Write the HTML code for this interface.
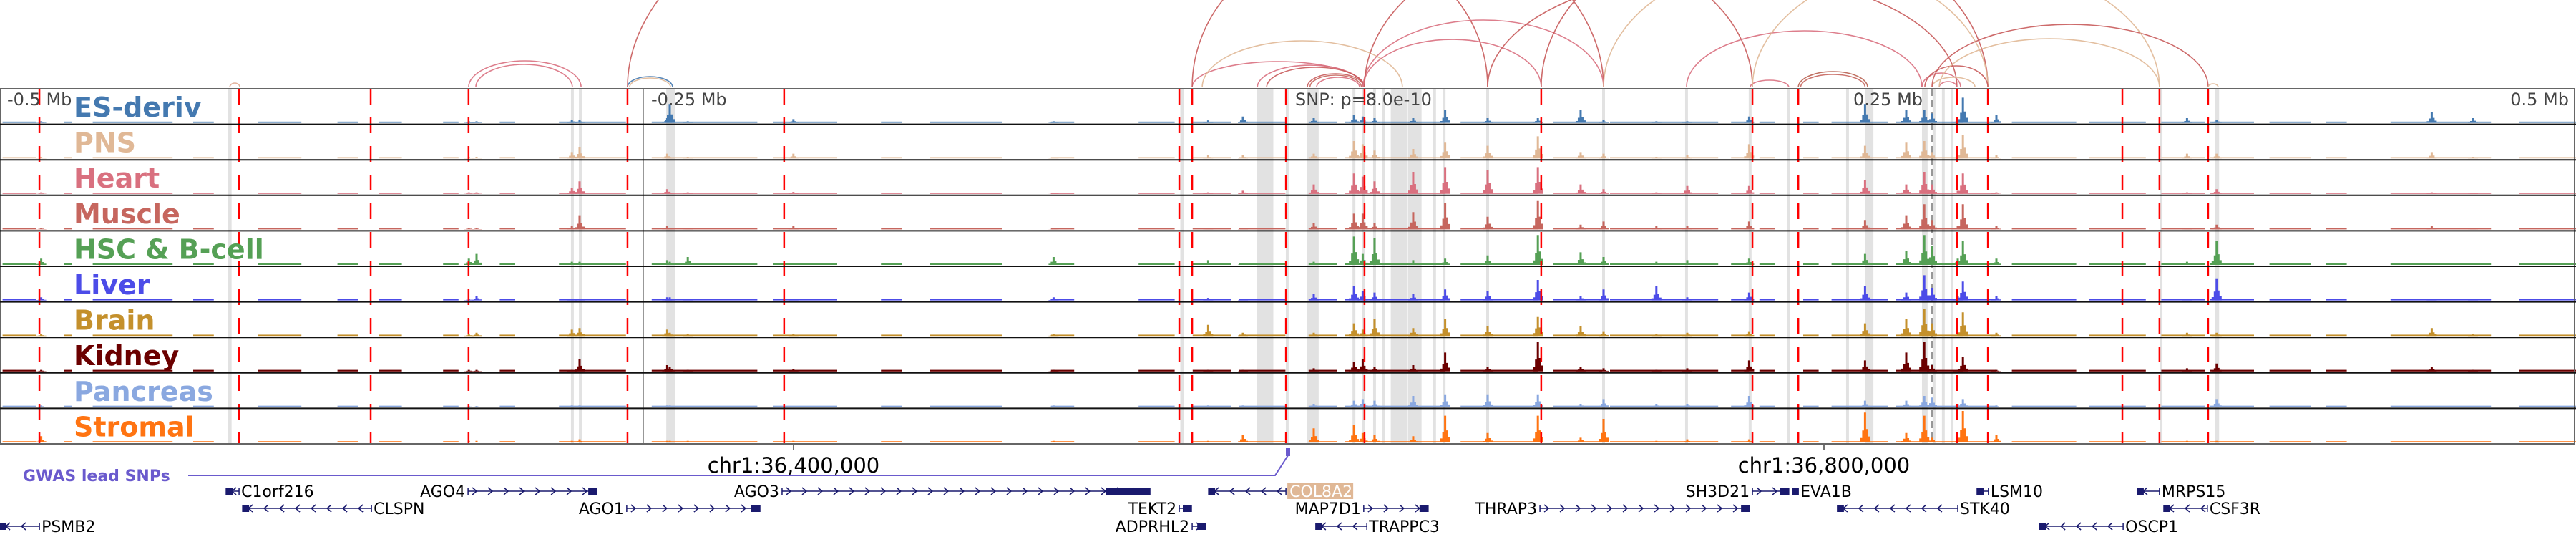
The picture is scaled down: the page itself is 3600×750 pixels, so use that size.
<!DOCTYPE html>
<html><head><meta charset="utf-8">
<style>
html,body{margin:0;padding:0;background:#fff;}
svg{display:block;font-family:"DejaVu Sans","Liberation Sans",sans-serif;}
</style></head>
<body>
<svg id="fig" width="3600" height="750" viewBox="0 0 3600 750" xmlns="http://www.w3.org/2000/svg">
<defs><clipPath id="arcclip"><rect x="0" y="0" width="3600" height="123"/></clipPath></defs>
<g id="bands"></g>
<g id="tracks"></g>
<g id="reds"></g>
<g id="frame"></g>
<g id="arcs" clip-path="url(#arcclip)"></g>
<g id="labels"></g>
<g id="axis">
  <text x="10" y="147" font-size="24" fill="#444">-0.5 Mb</text>
  <text x="910" y="147" font-size="24" fill="#444">-0.25 Mb</text>
  <text x="1810" y="147" font-size="24" fill="#444">SNP: p=8.0e-10</text>
  <text x="2590" y="147" font-size="24" fill="#444">0.25 Mb</text>
  <text x="3590" y="147" font-size="24" fill="#444" text-anchor="end">0.5 Mb</text>
  <line x1="1109" y1="621" x2="1109" y2="629" stroke="#444" stroke-width="1.5"/>
  <text x="1109" y="660" font-size="29" fill="#000" text-anchor="middle">chr1:36,400,000</text>
  <line x1="2549" y1="621" x2="2549" y2="629" stroke="#444" stroke-width="1.5"/>
  <text x="2549" y="660" font-size="29" fill="#000" text-anchor="middle">chr1:36,800,000</text>
</g>
<g id="gwas">
  <text x="32" y="672" font-size="22" font-weight="bold" fill="#6a5acd">GWAS lead SNPs</text>
  <polyline points="263,664 1782,664 1800,636" fill="none" stroke="#6a5acd" stroke-width="2"/>
  <rect x="1797" y="625" width="6" height="12" fill="#6a5acd"/>
</g>
<g id="genes"></g>
</svg>
<script>
// ---- data ----
const trackNames = ["ES-deriv","PNS","Heart","Muscle","HSC & B-cell","Liver","Brain","Kidney","Pancreas","Stromal"];
const trackColors = ["#4479b0","#e0b896","#d9707f","#c6665e","#55a055","#4c4ce8","#c4902c","#6b0000","#8aa8e0","#ff7412"];
const peakKb = [-484,-318,-315,-278,-275,-241,-240,-233,-192,-31,-17.5,10,25.6,29,33.6,48.6,61,77.5,97,113.6,122.5,143,155,179,224,240,247,250,262,275,349,360.5,444,460,-91,260];
const hES   = [.05,.05,.05,.1,.1,.15,.6,.05,.12,.08,.2,.15,.25,.2,.15,.15,.4,.15,.15,.4,.1,.05,.05,.2,.6,.4,.4,.3,.8,.25,.15,.1,.35,.15,.05,.1];
const hPNS  = [.05,.05,.05,.2,.35,.15,.05,.05,.15,.1,.1,.15,.55,.45,.25,.3,.5,.4,.7,.2,.15,.05,.1,.45,.4,.5,.55,.2,.75,.1,.15,.15,.2,.05,.03,.1];
const hHeart= [.05,.05,.05,.2,.4,.15,.05,.05,.06,.05,.1,.3,.65,.55,.4,.7,.85,.75,.85,.3,.15,.05,.25,.25,.45,.3,.7,.3,.65,.05,.05,.15,.05,.03,.03,.1];
const hMus  = [.05,.05,.05,.1,.45,.12,.05,.05,.1,.05,.05,.2,.5,.5,.2,.55,.85,.4,.9,.15,.25,.1,.1,.25,.3,.45,.8,.3,.8,.1,.05,.15,.1,.03,.03,.1];
const hHSC  = [.2,.2,.35,.1,.1,.15,.1,.25,.05,.15,.05,.1,.9,.35,.85,.15,.2,.3,.95,.4,.25,.1,.15,.2,.35,.45,.95,.6,.75,.2,.1,.75,.05,.03,.25,.2];
const hLiv  = [.1,.05,.15,.05,.05,.1,.1,.05,.05,.08,.05,.2,.45,.3,.25,.2,.35,.3,.65,.15,.35,.45,.1,.25,.45,.25,.8,.4,.6,.15,.05,.7,.05,.03,.1,.15];
const hBrain= [.05,.05,.1,.2,.25,.2,.1,.05,.06,.35,.1,.1,.4,.2,.55,.25,.55,.3,.6,.3,.15,.05,.1,.15,.4,.55,.85,.4,.75,.1,.1,.1,.25,.05,.05,.05];
const hKid  = [.05,.05,.05,.05,.4,.2,.15,.05,.08,.05,.05,.1,.3,.4,.15,.2,.6,.15,.95,.15,.1,.05,.1,.35,.35,.6,.95,.2,.45,.05,.1,.25,.15,.05,.05,.05];
const hPan  = [.05,.03,.03,.05,.05,.05,.05,.03,.03,.05,.05,.1,.2,.25,.2,.35,.4,.4,.4,.1,.25,.1,.1,.35,.2,.2,.35,.3,.25,.05,.03,.25,.03,.03,.05,.1];
const hStr  = [.2,.05,.05,.05,.1,.05,.05,.05,.05,.05,.25,.45,.55,.3,.25,.2,.85,.3,.85,.15,.75,.05,.1,.1,.95,.3,.85,.15,1.0,.25,.05,.05,.03,.03,.05,.1];
const baseSegKb = [[-499,-486],[-475,-472],[-464,-433],[-425,-417],[-400,-383],[-369,-361],[-353,-344],[-328,-322],[-306,-300],[-283,-257],[-247,-206],[-200,-175],[-158,-150],[-139,-111],[-92,-83],[-58,-44],[-37,-22],[-19,-1],[8,19],[22,61],[67,97],[103,122],[125,167],[172,179],[183,189],[200,206],[211,233],[236,275],[281,306],[311,333],[339,356],[358,375],[381,397],[403,411],[428,467],[478,500]];
const baseLevel = [.04,.04,.04,.04,.05,.04,.04,.05,.04,.04];
const bandKb = [-410.8,-277.8,-274.7,-239.7,-41.1,-8.9,-0.3,9.7,25.6,29.2,33.6,37.2,43.1,49.2,56.9,60.6,77.5,122.5,154.7,179.4,194.4,217.2,225.6,247.2,250.8,254.4,257.8,338.9,360.6];
const bandWidthKb = [1.4,1.1,1.1,3.3,1.4,6.4,1.1,4.4,1.1,1.1,1.1,1.1,6.4,5.3,1.1,1.1,1.1,1.1,1.1,1.1,1.1,1.1,3.3,2.2,1.1,1.1,1.1,1.1,1.7];
const redKb = [-484.7,-407.2,-356.1,-318.1,-256.4,-195.6,-42.2,-37.2,-0.8,29.7,98.3,180.3,198.1,259.7,271.7,323.9,338.3,357.2];
const arcStartKb = [-410.8,-318.1,-315.3,-256.4,-255.6,-256.4,-37.2,-33.3,-11.9,-8.3,7.5,8.5,11.1,-37.2,29.2,29.2,29.7,77.5,154.7,98.3,122.5,179.4,198.1,199,246.1,247.2,250,252.8,250,252.8,180.3,357.2];
const arcEndKb   = [-406.9,-274.4,-277.8,-238.9,-239.7,122.5,29.7,44.4,29.2,29.7,29.4,28.5,27.8,77.5,122.5,98.3,180.3,259.7,246.1,271.7,271.7,194.4,225,224,261.1,271.7,266.7,259.7,357.2,338.3,338.3,361.1];
const arcHeight  = [6,37,32,15,13,350,36,65,31,28,19,17,14,200,94,67,200,160,79,230,180,10,22,18,20,30,14,8,88,68,180,5];
const arcColor   = ["#e0a890","#d9707f","#d9707f","#4479b0","#e0b896","#c85a5a","#d9707f","#e0b896","#d9707f","#c85a5a","#c85a5a","#c6665e","#d9707f","#c85a5a","#d9707f","#d9707f","#c85a5a","#c85a5a","#d9707f","#c85a5a","#e0b896","#d9707f","#b86050","#c6665e","#d9707f","#c85a5a","#e0b896","#d9707f","#c85a5a","#e0b896","#e0b896","#e0b896"];
const geneNames  = ["PSMB2","C1orf216","CLSPN","AGO4","AGO1","AGO3","TEKT2","ADPRHL2","COL8A2","MAP7D1","TRAPPC3","THRAP3","SH3D21","EVA1B","STK40","LSM10","OSCP1","MRPS15","CSF3R"];
const geneStartKb= [-500,-412.2,-405.8,-318.3,-256.7,-196.4,-42.2,-37.2,-30.8,29.4,10.8,97.8,180.3,195.8,213.3,267.5,291.7,329.7,340];
const geneEndKb  = [-484.7,-407.2,-355.8,-268.3,-205,-53.6,-37.5,-31.9,-0.8,54.4,30.6,179.2,194.4,198.1,260,271.9,324.2,338.3,356.9];
const geneStrand = ["-","-","-","+","+","+","+","+","-","+","-","+","+","+","-","-","-","-","-"];
const geneRow    = [3,1,2,1,2,1,2,3,1,2,3,2,1,1,2,1,3,1,2];
const geneLabelSide = ["r","r","r","l","l","l","l","l","r","l","r","l","l","r","r","r","r","r","r"];

// ---- scales ----
const NS="http://www.w3.org/2000/svg";
const X = kb => 1800 + kb*3.6;
const TOP=124, ROWH=49.6, HMAX=44;
const rowBase = i => TOP + (i+1)*ROWH - 2;
function mk(tag, attrs, parent){const e=document.createElementNS(NS,tag);for(const k in attrs)e.setAttribute(k,attrs[k]);parent.appendChild(e);return e;}
const heights=[hES,hPNS,hHeart,hMus,hHSC,hLiv,hBrain,hKid,hPan,hStr];

// bands
const gB=document.getElementById('bands');
bandKb.forEach((kb,i)=>{const w=bandWidthKb[i]*3.6;
 const r=mk('rect',{x:X(kb)-w/2,y:TOP,width:w,height:620-TOP,fill:'#e2e2e2'},gB);
 
 });
// gray reference lines
const gl=mk('line',{x1:899,y1:TOP,x2:899,y2:620,stroke:'#777','stroke-width':1.5},gB);


const gl2=mk('line',{x1:2700,y1:TOP,x2:2700,y2:620,stroke:'#777','stroke-width':1.5,'stroke-dasharray':'10 6'},gB);



// tracks
const gT=document.getElementById('tracks');
heights.forEach((arr,t)=>{
 const g=mk('g',{fill:trackColors[t]},gT);
 
 
 const b=rowBase(t);
 baseSegKb.forEach(s=>{const h=baseLevel[t]*HMAX;
  const r=mk('rect',{x:X(s[0]),y:b-h,width:X(s[1])-X(s[0]),height:h},g);
  
  });
 peakKb.forEach((kb,i)=>{const x=X(kb),h=arr[i]*HMAX;
  const pts=[[x-7,b],[x-7,b-h*0.15],[x-4,b-h*0.15],[x-4,b-h*0.4],[x-1.5,b-h*0.4],[x-1.5,b-h],[x+1.5,b-h],[x+1.5,b-h*0.45],[x+4,b-h*0.45],[x+4,b-h*0.2],[x+7,b-h*0.2],[x+7,b]];
  const p=mk('polygon',{points:pts.map(q=>q.join(',')).join(' ')},g);
  
  });
});

// red dashed
const gR=document.getElementById('reds');
redKb.forEach(kb=>{const l=mk('line',{x1:X(kb),y1:TOP,x2:X(kb),y2:620,stroke:'#ff0000','stroke-width':2.5,'stroke-dasharray':'22 18'},gR);
 
 });

// frame
const gF=document.getElementById('frame');
const fr=mk('rect',{x:1,y:TOP,width:3597,height:620-TOP,fill:'none',stroke:'#666','stroke-width':2},gF);


for(let i=0;i<9;i++){const y=TOP+(i+1)*ROWH;
 const l=mk('line',{x1:0,y1:y,x2:3600,y2:y,stroke:'#111','stroke-width':2},gF);
 
 }

// arcs
const gA=document.getElementById('arcs');
arcStartKb.forEach((s,i)=>{const x1=X(s),x2=X(arcEndKb[i]),rx=(x2-x1)/2,y0=122;
 const p=mk('path',{d:`M${x1},${y0} A${rx},${arcHeight[i]} 0 0 1 ${x2},${y0}`,fill:'none',stroke:arcColor[i],'stroke-width':1.6,opacity:0.9},gA);
 
 });

// labels
const gL=document.getElementById('labels');
trackNames.forEach((n,i)=>{const t=mk('text',{x:103,y:TOP+i*ROWH+39,'font-size':38,'font-weight':'bold',fill:trackColors[i]},gL);
 t.textContent=n;
 
 });

// genes
const gG=document.getElementById('genes');
const rowY={1:686,2:710,3:735};
const GC='#1a1a6e';
geneNames.forEach((n,i)=>{
 const g=mk('g',{},gG);
 
 
 const x1=X(geneStartKb[i]),x2=X(geneEndKb[i]),y=rowY[geneRow[i]];
 mk('line',{x1:x1,y1:y,x2:x2,y2:y,stroke:GC,'stroke-width':1.5},g);
 mk('line',{x1:x1,y1:y-5,x2:x1,y2:y+5,stroke:GC,'stroke-width':1.5},g);
 mk('line',{x1:x2,y1:y-5,x2:x2,y2:y+5,stroke:GC,'stroke-width':1.5},g);
 for(let x=x1+10;x<x2-6;x+=22){
  const d=geneStrand[i]=='+'?`M${x-4},${y-5} L${x+2},${y} L${x-4},${y+5}`:`M${x+4},${y-5} L${x-2},${y} L${x+4},${y+5}`;
  mk('path',{d:d,fill:'none',stroke:GC,'stroke-width':1.5},g);}
 const blk=Math.min(12,x2-x1);
 if(geneStrand[i]=='+') mk('rect',{x:x2-blk,y:y-5,width:blk,height:10,fill:GC},g);
 else mk('rect',{x:x1,y:y-5,width:Math.min(blk,9),height:10,fill:GC},g);
 if(n==='COL8A2'){const bx=mk('rect',{x:x2+2,y:y-11,width:92,height:22,fill:'#e0b896'},g);
  
  }
 const lx=geneLabelSide[i]=='r'?x2+3:x1-4;
 const t=mk('text',{x:n==='COL8A2'?x2+5:lx,y:y+8,'font-size':22,fill:n==='COL8A2'?'#fff':'#000','text-anchor':geneLabelSide[i]=='r'?'start':'end'},g);
 t.textContent=n;
 
 
});
// AGO3 coding block
const ab=mk('rect',{x:X(-70.8),y:681,width:X(-53.6)-X(-70.8),height:10,fill:GC},gG);


</script>
</body></html>
